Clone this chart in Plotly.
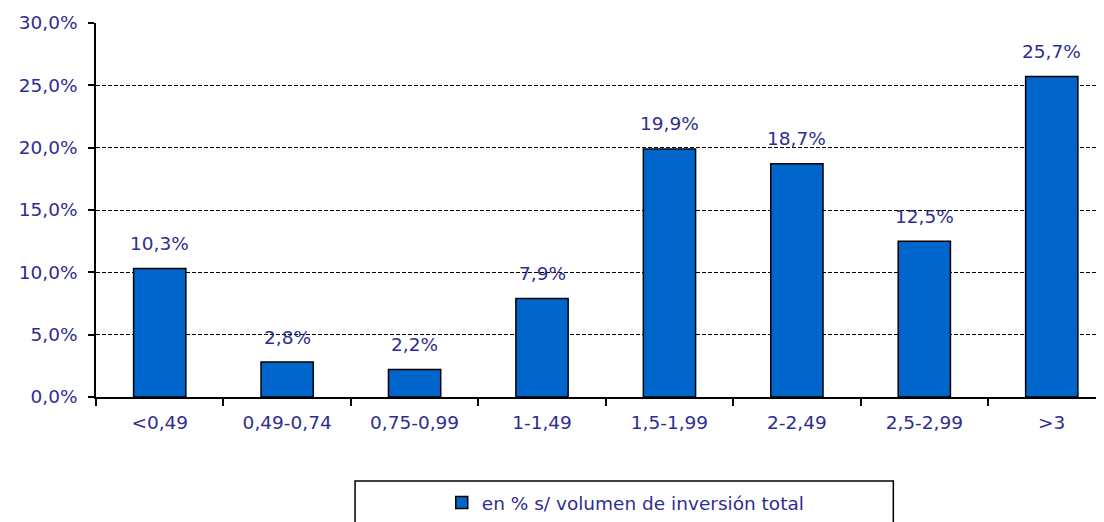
import plotly.graph_objects as go

categories = ["<0,49", "0,49-0,74", "0,75-0,99", "1-1,49", "1,5-1,99", "2-2,49", "2,5-2,99", ">3"]
values = [10.3, 2.8, 2.2, 7.9, 19.9, 18.7, 12.5, 25.7]
series_name = "en % s/ volumen de inversión total"
y_ticks = [0, 5, 10, 15, 20, 25, 30]
y_tick_labels = ["0,0%", "5,0%", "10,0%", "15,0%", "20,0%", "25,0%", "30,0%"]

text_col = "#2E2E92"
FONT = "DejaVu Sans, Verdana, Arial"
FS = 18.5
labels = [f"{v:.1f}%".replace(".", ",") for v in values]

fig = go.Figure()
fig.add_trace(go.Bar(
    x=categories, y=values, name=series_name,
    marker=dict(color="#0066CC", line=dict(color="black", width=1.5)),
    width=0.41,
    showlegend=True,
))

annotations = [
    dict(x=c, y=v, text=t, xref="x", yref="y", showarrow=False,
         yanchor="middle", xanchor="center", yshift=25,
         font=dict(family=FONT, size=FS, color=text_col))
    for c, v, t in zip(categories, values, labels)
]

fig.update_layout(
    width=1096, height=540,
    margin=dict(l=88, r=0, t=15, b=151),
    plot_bgcolor="white", paper_bgcolor="white",
    font=dict(family=FONT, size=FS, color=text_col),
    xaxis=dict(
        type="category", range=[-0.5, 7.41],
        showline=True, linecolor="black", linewidth=1.5,
        ticks="outside", tickson="boundaries", ticklen=7, tickwidth=1.5, tickcolor="black",
        showgrid=False, tickfont=dict(family=FONT, size=FS, color=text_col),
        ticklabelstandoff=8,
    ),
    yaxis=dict(
        range=[0, 30], tickvals=y_ticks, ticktext=y_tick_labels,
        showline=True, linecolor="black", linewidth=1.5,
        ticks="outside", ticklen=6, tickwidth=1.5, tickcolor="black",
        showgrid=True, gridcolor="black", griddash="4px,2px", gridwidth=1,
        zeroline=False, tickfont=dict(family=FONT, size=FS, color=text_col),
        ticklabelstandoff=7,
    ),
    legend=dict(
        orientation="h", x=0.343, xanchor="left", y=-0.2326, yanchor="top",
        font=dict(family=FONT, size=FS, color=text_col), bgcolor="rgba(0,0,0,0)",
    ),
    annotations=annotations,
    shapes=[dict(
        type="rect", xref="paper", yref="paper",
        x0=0.257, x1=0.791,
        y0=-0.4, y1=-0.2246,
        line=dict(color="black", width=1.5),
    )],
)

fig.write_html("out.html")
